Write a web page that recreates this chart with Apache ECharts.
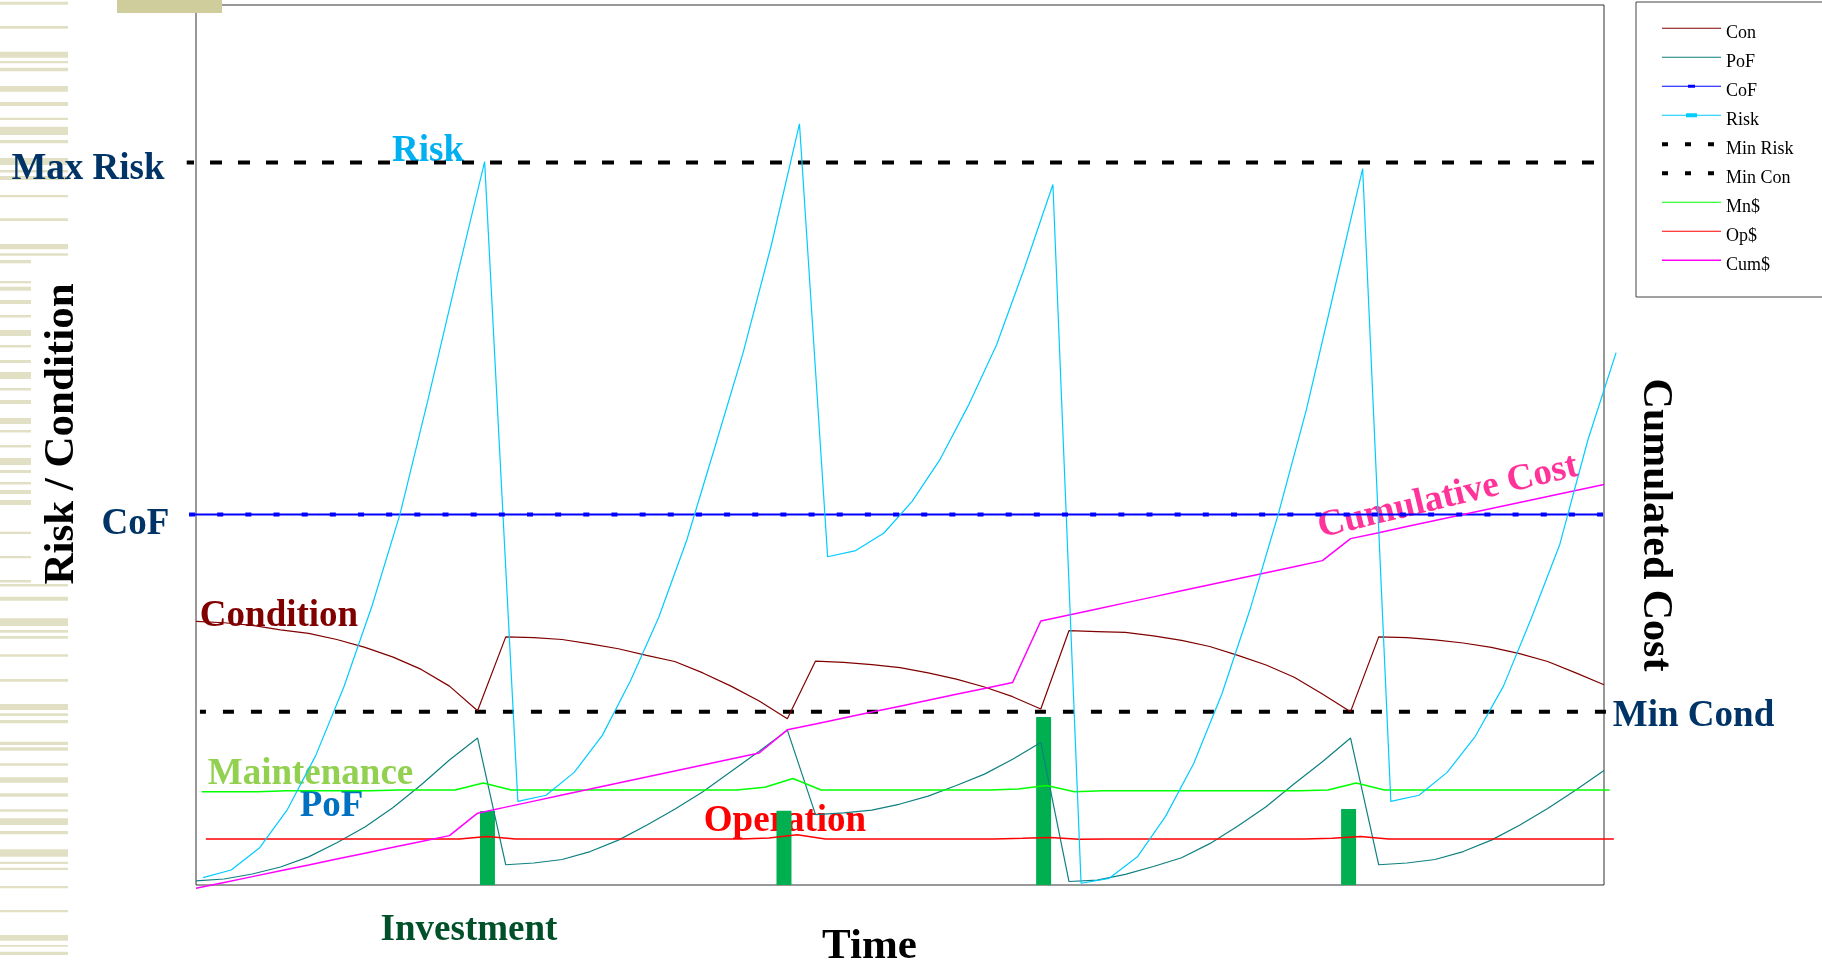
<!DOCTYPE html>
<html>
<head>
<meta charset="utf-8">
<script src="https://cdn.jsdelivr.net/npm/echarts@6/dist/echarts.min.js"></script>
<style>
  html, body { margin: 0; padding: 0; background: #ffffff; }
  #chart { width: 1822px; height: 962px; }
</style>
</head>
<body>
<div id="chart"></div>
<script>
// ---- Life-cycle data: one sample per time step (0 .. 50) ----
const timeSteps = Array.from({ length: 51 }, (_, i) => i);

// Condition index of the asset
const condition = [
  29.95, 29.8, 29.5, 29.0, 28.6, 27.9, 27.0, 25.9, 24.5, 22.6, 19.8,
  28.2, 28.1, 27.9, 27.4, 26.85, 26.1, 25.4, 24.1, 22.6, 20.9, 18.9,
  25.45, 25.3, 25.05, 24.7, 24.1, 23.4, 22.5, 21.4, 20.0,
  28.9, 28.8, 28.7, 28.3, 27.8, 27.1, 26.1, 25.0, 23.6, 21.7, 19.7,
  28.2, 28.1, 27.85, 27.5, 27.0, 26.3, 25.4, 24.1, 22.75
];

// Probability of failure
const pof = [
  0.46, 0.68, 1.25, 2.05, 3.2, 4.8, 6.6, 8.8, 11.4, 14.2, 16.7,
  2.3, 2.5, 2.9, 3.8, 5.1, 6.8, 8.6, 10.6, 12.9, 15.2, 17.6,
  8.0, 8.2, 8.5, 9.2, 10.1, 11.3, 12.6, 14.3, 16.2,
  0.4, 0.55, 1.2, 2.1, 3.1, 4.7, 6.7, 8.9, 11.5, 14.0, 16.7,
  2.3, 2.5, 2.9, 3.8, 5.1, 6.8, 8.7, 10.8, 13.0
];

// Risk (PoF x CoF), sampled slightly after each time step
const risk = [
  0.83, 1.7, 4.2, 8.6, 14.7, 22.5, 31.7, 42.2, 55.3, 68.9, 82.2,
  9.5, 10.2, 12.8, 17.0, 23.2, 30.4, 39.2, 49.8, 60.5, 72.7, 86.5,
  37.3, 38.0, 40.0, 43.6, 48.4, 54.5, 61.4, 70.2, 79.6,
  0.2, 0.76, 3.2, 7.8, 13.8, 21.7, 31.3, 42.1, 54.0, 67.7, 81.4,
  9.5, 10.2, 12.8, 16.9, 22.6, 30.4, 38.7, 50.6, 60.5
];
const riskLagFirstCycle = 0.25;
const riskLagLater = 0.43;

// Maintenance cost per step
const maintenanceCost = [
  10.6, 10.6, 10.6, 10.7, 10.7, 10.7, 10.7, 10.8, 10.8, 10.8,
  11.6,
  10.8, 10.8, 10.8, 10.8, 10.8, 10.8, 10.8, 10.8, 10.8,
  11.1, 12.1,
  10.8, 10.8, 10.8, 10.8, 10.8, 10.8, 10.8,
  10.9, 11.3,
  10.6, 10.7, 10.7, 10.7, 10.7, 10.7, 10.7, 10.7, 10.7,
  10.8, 11.6,
  10.8, 10.8, 10.8, 10.8, 10.8, 10.8, 10.8, 10.8, 10.8
];
const maintenanceLag = 0.2;

// Operation cost per step
const operationCost = [
  5.23, 5.23, 5.23, 5.23, 5.23, 5.23, 5.23, 5.23, 5.23, 5.23,
  5.5,
  5.23, 5.23, 5.23, 5.23, 5.23, 5.23, 5.23, 5.23, 5.23,
  5.35, 5.7,
  5.23, 5.23, 5.23, 5.23, 5.23, 5.23, 5.23,
  5.3, 5.4,
  5.2, 5.23, 5.23, 5.23, 5.23, 5.23, 5.23, 5.23, 5.23,
  5.3, 5.5,
  5.23, 5.23, 5.23, 5.23, 5.23, 5.23, 5.23, 5.23, 5.23
];
const operationLag = 0.35;

// Cumulated cost (right axis)
const cumulativeCost = [
  -0.38, 0.29, 0.95, 1.62, 2.28, 2.95, 3.61, 4.28, 4.94, 5.61,
  8.16,
  8.85, 9.53, 10.22, 10.9, 11.59, 12.27, 12.96, 13.64, 14.33, 15.0,
  17.63,
  18.3, 18.98, 19.65, 20.32, 20.99, 21.67, 22.34, 23.01,
  30.0,
  30.69, 31.37, 32.06, 32.74, 33.43, 34.12, 34.8, 35.49, 36.17, 36.86,
  39.36,
  40.04, 40.73, 41.41, 42.09, 42.78, 43.46, 44.14, 44.83, 45.51
];

// Reference levels
const cofLevel = 42.1;
const cofLag = -0.14;
const maxRiskLevel = 82.1;
const maxRiskSpan = [-0.33, 50];
const minConditionLevel = 19.7;
const minConditionSpan = [0.14, 50.32];

// Investments (renewals / refurbishments)
const investmentTime = [10.35, 20.88, 30.1, 40.93];
const investment = [8.4, 8.45, 19.1, 8.65];

const legendNames = ['Con', 'PoF', 'CoF', 'Risk', 'Min Risk', 'Min Con', 'Mn$', 'Op$', 'Cum$'];

// ---- helpers ----
const pair = (xs, ys) => xs.map((x, i) => [x, ys[i]]);
const shifted = lag => timeSteps.map(t => t + lag);
const riskTime = timeSteps.map(t => t + (t <= 10 ? riskLagFirstCycle : riskLagLater));
const flat = (span, level) => span.map(t => [t, level]);

const SERIF = '"Liberation Serif", "Times New Roman", serif';

// Plot frame and a slightly wider data area sharing the same time scale,
// so the curves may run a little past the frame as they do on the slide.
const FRAME = { left: 196, top: 5, right: 218, bottom: 77 };
const T_MIN = 0, T_MAX = 50;
const DATA_T_MIN = -0.4, DATA_T_MAX = 50.5;
const pxPerStep = (1822 - FRAME.left - FRAME.right) / (T_MAX - T_MIN);
const dataGrid = {
  left: FRAME.left - (T_MIN - DATA_T_MIN) * pxPerStep,
  right: FRAME.right - (DATA_T_MAX - T_MAX) * pxPerStep,
  top: FRAME.top, bottom: FRAME.bottom
};

// legend icons drawn in a 59 x 18 box (two tiny corner dots fix the box)
const box = 'M0,0h.05v.05h-.05z M58.95,17.95h.05v.05h-.05z ';
const thinLine = 'M0,4h59v1h-59z';
const icons = {
  line: 'path://' + box + thinLine,
  cum: 'path://' + box + 'M0,3.75h59v1.5h-59z',
  cof: 'path://' + box + thinLine + ' M26,3h7v3h-7z',
  risk: 'path://' + box + thinLine + ' M24,2.5h11v4h-11z',
  dash: 'path://' + box + 'M0,2.5h6v4h-6z M23,2.5h6v4h-6z M46,2.5h6v4h-6z'
};
const legendIcon = {
  'Con': icons.line, 'PoF': icons.line, 'CoF': icons.cof, 'Risk': icons.risk,
  'Min Risk': icons.dash, 'Min Con': icons.dash,
  'Mn$': icons.line, 'Op$': icons.line, 'Cum$': icons.cum
};

// ---- decorative slide stripes on the left edge ----
const stripeRows = [
  [1.7, 3, 68], [26, 2.7, 68], [51.7, 6, 68], [61, 2.3, 68], [67.7, 3.6, 68],
  [86, 5.7, 68], [102, 4, 68], [117.7, 2.3, 68], [126.7, 8.3, 68], [140, 3.3, 68],
  [158, 7, 68], [170, 2.5, 68], [176, 4, 68], [195, 2.3, 68], [218.3, 2.7, 68],
  [244, 5.3, 68], [253.3, 2.4, 68], [260, 3.3, 31], [281, 2.3, 31], [286.7, 4, 31],
  [300, 4, 31], [315, 2.5, 31], [330, 6, 31], [345, 2.5, 31], [360, 3, 31],
  [372, 7, 31], [388, 2.5, 31], [400, 4, 31], [418, 6, 31], [430, 2.5, 31],
  [445, 2.5, 31], [458, 7, 31], [470, 3, 31], [482, 2.5, 31], [490, 4, 31],
  [500, 5, 31], [531.7, 2.3, 31], [556, 2.3, 31], [580, 2.5, 31], [584, 2.5, 68],
  [596.7, 4, 68], [618.3, 7.7, 68], [630, 2.7, 68], [636, 2.7, 68], [654.3, 2.4, 68],
  [679, 2.7, 68], [704, 6, 68], [713.3, 2.7, 68], [720, 3.3, 68], [741.7, 3.3, 68],
  [747.3, 3.4, 68], [763.3, 2.4, 68], [777.3, 5.4, 68], [793.3, 3.4, 68], [809.3, 2.4, 68],
  [818.3, 6.7, 68], [831, 3.3, 68], [849.3, 7.4, 68], [861.7, 2.3, 68], [867.7, 2.3, 68],
  [886, 2.3, 68], [910, 2.3, 68], [935, 5.7, 68], [945, 1.7, 68], [951.7, 3.3, 68]
];

const decoration = stripeRows.map(([y, h, w]) => ({
  type: 'rect', silent: true, z: 0,
  shape: { x: 0, y: y, width: w, height: h },
  style: { fill: '#e2e0c4' }
}));
decoration.push({
  type: 'rect', silent: true, z: 0,
  shape: { x: 117, y: 0, width: 105, height: 13 },
  style: { fill: '#cfcd9c' }
});

// ---- annotation texts ----
const textItem = (text, x, y, color, size, angleDeg) => ({
  type: 'text', silent: true, z: 1,
  x: x, y: y,
  rotation: (angleDeg || 0) * Math.PI / 180,
  style: {
    text: text, fill: color,
    font: 'bold ' + size + 'px ' + SERIF,
    align: 'center', verticalAlign: 'middle'
  }
});

const annotations = [
  textItem('Max Risk', 88, 169, '#003366', 37),
  textItem('CoF', 135.5, 524.5, '#003366', 37),
  textItem('Risk', 428, 151.5, '#00b0f0', 37),
  textItem('Condition', 279, 616.5, '#800000', 37),
  textItem('Maintenance', 310.5, 774.5, '#92d050', 37),
  textItem('PoF', 331.5, 806.5, '#0070c0', 37),
  textItem('Operation', 785, 821.5, '#ff0000', 37),
  textItem('Investment', 469, 930.5, '#00502a', 37),
  textItem('Min Cond', 1693.5, 716, '#003366', 37),
  textItem('Time', 869.5, 947, '#000000', 43),
  textItem('Risk / Condition', 62, 434, '#000000', 43, 90),
  textItem('Cumulated Cost', 1655, 525, '#000000', 42, -90),
  textItem('Cumulative Cost', 1448, 497, '#ff3399', 37, 13.5)
];

const lineSeries = (name, data, color, width, extra) => Object.assign({
  name: name, type: 'line', data: data,
  xAxisIndex: 1, yAxisIndex: 1,
  symbol: 'none', showSymbol: false, clip: false, silent: true,
  lineStyle: { color: color, width: width },
  itemStyle: { color: color },
  z: 3
}, extra || {});

const chart = echarts.init(document.getElementById('chart'), null, { renderer: 'canvas' });

chart.setOption({
  animation: false,
  backgroundColor: '#ffffff',
  grid: [
    Object.assign({ show: true, borderColor: '#333333', borderWidth: 1, backgroundColor: 'transparent' }, FRAME),
    Object.assign({ show: false }, dataGrid)
  ],
  xAxis: [
    { type: 'value', gridIndex: 0, min: T_MIN, max: T_MAX, show: false },
    { type: 'value', gridIndex: 1, min: DATA_T_MIN, max: DATA_T_MAX, show: false }
  ],
  yAxis: [
    { type: 'value', gridIndex: 0, min: 0, max: 100, show: false },
    { type: 'value', gridIndex: 1, min: 0, max: 100, show: false },
    { type: 'value', gridIndex: 1, min: 0, max: 100, show: false, position: 'right' }
  ],
  legend: {
    orient: 'vertical', left: 1636, top: 2,
    padding: [21.8, 50, 23.2, 26],
    itemWidth: 59, itemHeight: 18, itemGap: 11,
    borderColor: '#444444', borderWidth: 1,
    symbolKeepAspect: false,
    selectedMode: false,
    itemStyle: { borderWidth: 0 },
    textStyle: { fontFamily: SERIF, fontSize: 18, lineHeight: 18, color: '#000000' },
    data: legendNames.map(n => ({ name: n, icon: legendIcon[n] }))
  },
  graphic: decoration.concat(annotations),
  series: [
    {
      name: 'Investment', type: 'bar',
      xAxisIndex: 1, yAxisIndex: 1,
      data: pair(investmentTime, investment),
      barWidth: 15, silent: true, z: 2,
      itemStyle: { color: '#00b050' }
    },
    lineSeries('Min Risk', flat(maxRiskSpan, maxRiskLevel), '#000000', 4, {
      lineStyle: { color: '#000000', width: 4, type: [12, 16], dashOffset: 4.7, cap: 'butt' }
    }),
    lineSeries('Min Con', flat(minConditionSpan, minConditionLevel), '#000000', 4, {
      lineStyle: { color: '#000000', width: 4, type: [11, 17], dashOffset: 5, cap: 'butt' }
    }),
    lineSeries('CoF', shifted(cofLag).map(t => [t, cofLevel]), '#0000ff', 2, {
      symbol: 'rect', showSymbol: true, symbolSize: [6, 4]
    }),
    lineSeries('Con', pair(timeSteps, condition), '#800000', 1.2),
    lineSeries('PoF', pair(timeSteps, pof), '#0f8080', 1.2),
    lineSeries('Mn$', pair(shifted(maintenanceLag), maintenanceCost), '#00ff00', 1.5),
    lineSeries('Op$', pair(shifted(operationLag), operationCost), '#ff0000', 1.5),
    lineSeries('Cum$', pair(timeSteps, cumulativeCost), '#ff00ff', 1.5, { yAxisIndex: 2 }),
    lineSeries('Risk', pair(riskTime, risk), '#00ccff', 1.2)
  ]
});
</script>
</body>
</html>
